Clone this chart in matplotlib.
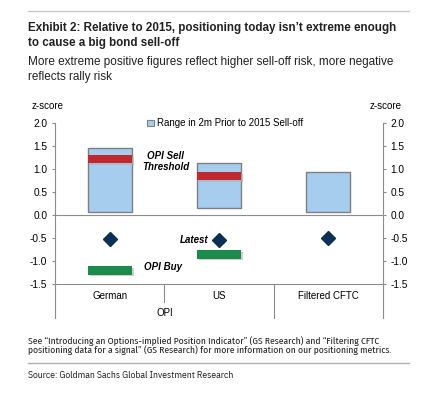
import os
import matplotlib
matplotlib.use("Agg")
import matplotlib.pyplot as plt
import matplotlib.transforms as mtransforms
from matplotlib import font_manager as fm
from matplotlib.lines import Line2D
from matplotlib.patches import Patch

# data (z-scores)
categories = ["German", "US", "Filtered CFTC"]
range_low = [0.07, 0.15, 0.07]
range_high = [1.47, 1.13, 0.95]
opi_sell = [1.22, 0.85]      # German, US only
opi_buy = [-1.20, -0.85]
latest = [-0.51, -0.54, -0.49]
yticks = [2.0, 1.5, 1.0, 0.5, 0.0, -0.5, -1.0, -1.5]

plt.rcParams["font.family"] = ["Liberation Sans", "DejaVu Sans"]

GRAY = "#8c8c8c"
BLUE = "#a7cdee"
RED = "#c0292f"
GREEN = "#1b8a4a"
NAVY = "#0d2f55"


def font_candidates(bold=False):
    """sans condensed faces if installed, plus a few regular sans faces"""
    out = []
    for f in fm.fontManager.ttflist:
        base = os.path.basename(f.fname).lower()
        if not ("condensed" in base or "narrow" in base):
            continue
        if any(k in base for k in ["serif", "mono", "italic", "oblique", "semi",
                                   "light", "extra", "black", "medium", "thin"]):
            continue
        if ("bold" in base) == bold:
            out.append(fm.FontProperties(fname=f.fname))
    w = "bold" if bold else "normal"
    for fam in ["Liberation Sans", "Roboto", "Lato"]:
        out.append(fm.FontProperties(family=fam, weight=w))
    return out


def fit_text(fig, x, y, s, target_px, want_size, bold=False, **kw):
    # try each face, fit its widest line to target_px, keep the one nearest want_size
    r = fig.canvas.get_renderer()
    best, best_size = None, None
    for fp in font_candidates(bold):
        t = fig.text(x, y, s, fontproperties=fp, **kw)
        t.set_fontsize(10)
        w = t.get_window_extent(renderer=r).width
        size = 10 * target_px / w
        t.remove()
        if best is None or abs(size - want_size) < abs(best_size - want_size):
            best, best_size = fp, size
    t = fig.text(x, y, s, fontproperties=best, **kw)
    t.set_fontsize(best_size)
    return t


fig = plt.figure(figsize=(4.39, 3.94), dpi=100)
ax = fig.add_axes([0.1253, 0.2784, 0.7471, 0.4086])

x = [0.5, 1.5, 2.5]
bar_h = 0.18

ax.bar(x, [h - l for h, l in zip(range_high, range_low)], bottom=range_low,
       width=0.4, color=BLUE, edgecolor="#7f7f7f", lw=1, zorder=2)

# threshold bars with a small drop shadow
ax.bar([xi + 0.02 for xi in x[:2]], bar_h, bottom=[v - bar_h / 2 - 0.04 for v in opi_sell],
       width=0.4, color="#b0b0b0", alpha=0.6, lw=0, zorder=2.5)
ax.bar(x[:2], bar_h, bottom=[v - bar_h / 2 for v in opi_sell],
       width=0.4, color=RED, lw=0, zorder=3)
ax.bar([xi + 0.02 for xi in x[:2]], bar_h, bottom=[v - bar_h / 2 - 0.04 for v in opi_buy],
       width=0.4, color="#b0b0b0", alpha=0.6, lw=0, zorder=2.5)
ax.bar(x[:2], bar_h, bottom=[v - bar_h / 2 for v in opi_buy],
       width=0.4, color=GREEN, lw=0, zorder=3)

ax.plot(x, latest, "D", ms=7.5, color=NAVY, ls="none", zorder=4)

ax.axhline(0, color=GRAY, lw=0.8, zorder=1)
ax.set_xlim(0, 3)
ax.set_ylim(-1.5, 2.0)
ax.set_xticks([])
ax.set_yticks(yticks)
ax.set_yticklabels([f"{t:.1f}" for t in yticks])
ax.tick_params(axis="y", length=2.5, color=GRAY, labelsize=7.3, pad=3,
               right=True, labelright=True)
ax.spines["top"].set_visible(False)
for s in ["left", "right", "bottom"]:
    ax.spines[s].set_color(GRAY)
    ax.spines[s].set_linewidth(0.8)

# category axis below the plot
trans = mtransforms.blended_transform_factory(ax.transData, ax.transAxes)
for xi, lab in zip(x, categories):
    ax.text(xi, -0.071, lab, transform=trans, ha="center", va="center", fontsize=7)
ax.text(1.0, -0.18, "OPI", transform=trans, ha="center", va="center", fontsize=7)
for xd, yb in [(0, -0.21), (1, -0.108), (2, -0.21), (3, -0.21)]:
    ax.add_line(Line2D([xd, xd], [0, yb], transform=trans, color=GRAY, lw=0.8,
                       clip_on=False))

ax.text(-0.023, 1.107, "z-score", transform=ax.transAxes, ha="center", va="center",
        fontsize=7)
ax.text(1.009, 1.107, "z-score", transform=ax.transAxes, ha="center", va="center",
        fontsize=7)

ax.legend(handles=[Patch(facecolor=BLUE, edgecolor="#7f7f7f", lw=0.8)],
          labels=["Range in 2m Prior to 2015 Sell-off"], loc="center left",
          bbox_to_anchor=(0.28, 1.0), frameon=False, fontsize=7, handlelength=0.7,
          handleheight=0.7, handletextpad=0.3, borderpad=0, borderaxespad=0)

# annotations
ax.text(1.013, 1.165, "OPI Sell\nThreshold", ha="center", va="center", fontsize=7,
        fontweight="bold", style="italic", linespacing=1.1)
ax.text(1.40, -0.54, "Latest", ha="right", va="center", fontsize=7,
        fontweight="bold", style="italic")
ax.text(0.99, -1.12, "OPI Buy", ha="center", va="center", fontsize=7,
        fontweight="bold", style="italic")

# titles and notes
fig.canvas.draw()
fig.add_artist(Line2D([0.0638, 0.932], [0.972, 0.972], color="#c8c8c8", lw=1))
fit_text(fig, 0.0638, 1 - 35.5 / 394,
         "Exhibit 2: Relative to 2015, positioning today isn\u2019t extreme enough\n"
         "to cause a big bond sell-off", 369, 8.6, bold=True, ha="left", va="center",
         color="#222222", linespacing=1.3)
fit_text(fig, 0.0638, 1 - 69.5 / 394,
         "More extreme positive figures reflect higher sell-off risk, more negative\n"
         "reflects rally risk", 367, 8.6, ha="left", va="center", color="#222222",
         linespacing=1.25)
fit_text(fig, 0.0638, 1 - 345.5 / 394,
         "See \u201cIntroducing an Options-implied Position Indicator\u201d (GS Research) and "
         "\u201cFiltering CFTC\npositioning data for a signal\u201d (GS Research) for more "
         "information on our positioning metrics.", 362, 6.8, ha="left", va="center",
         color="#222222", linespacing=1.0)
fig.add_artist(Line2D([0.0638, 0.932], [0.0794, 0.0794], color="#b0b0b0", lw=1))
fit_text(fig, 0.0638, 1 - 375.7 / 394, "Source: Goldman Sachs Global Investment Research",
         205, 6.8, ha="left", va="center", color="#222222")

fig.savefig("out.png", dpi=100)
